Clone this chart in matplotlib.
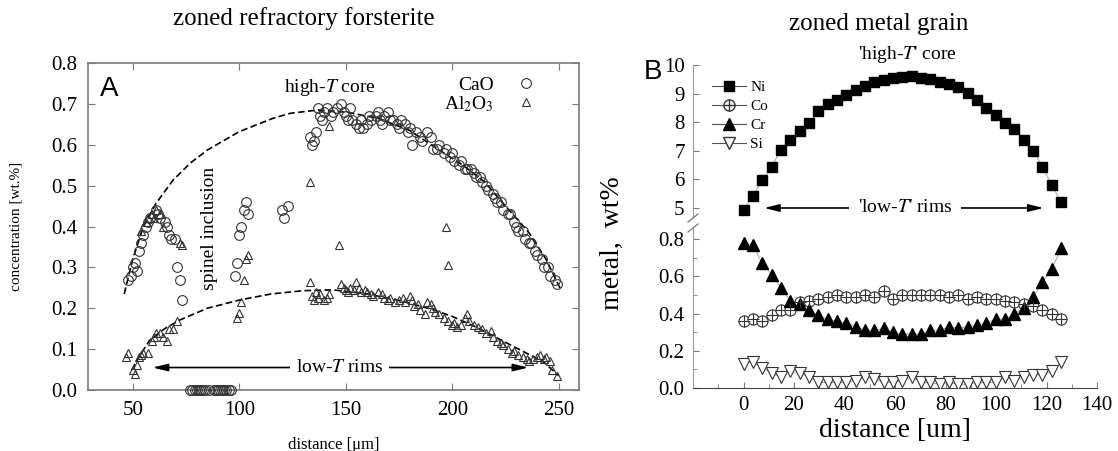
import matplotlib
matplotlib.use("Agg")
import matplotlib.pyplot as plt
from matplotlib.lines import Line2D

plt.rcParams["font.family"] = ["Liberation Serif", "DejaVu Serif"]
plt.rcParams["mathtext.fontset"] = "stix"

# ---- panel A: zoned refractory forsterite ----
cao_x = [48, 49, 50, 51, 52, 53, 54, 55, 56, 57, 58, 61, 62, 63, 65, 66, 67, 68, 70, 71, 72, 73,
         98, 99, 100, 101, 102, 103, 104, 120, 121, 123,
         133, 134, 135, 136, 137, 138, 139, 140, 141, 143, 144, 146, 148, 149, 150, 151, 152, 153,
         155, 156, 157, 158, 160, 161, 162, 164, 165, 166, 167, 168, 170, 171, 172, 174, 175, 176,
         178, 179, 180, 181, 183, 185, 186, 188, 190, 191, 193, 194, 196, 197, 199, 200, 201, 203,
         204, 206, 207, 209, 210, 211, 213, 214, 216, 217, 219, 220, 221, 223, 224, 226, 227, 229,
         230, 231, 233, 234, 236, 237, 239, 240, 242, 243, 245, 246, 248, 249]
cao_y = [0.27, 0.28, 0.30, 0.31, 0.29, 0.34, 0.36, 0.38, 0.40, 0.41, 0.42, 0.44, 0.43, 0.42, 0.41, 0.40, 0.38, 0.37, 0.37, 0.30, 0.27, 0.22,
         0.28, 0.31, 0.38, 0.40, 0.44, 0.46, 0.43, 0.44, 0.42, 0.45,
         0.62, 0.60, 0.61, 0.63, 0.69, 0.67, 0.66, 0.68, 0.69, 0.67, 0.68, 0.69, 0.70, 0.68, 0.67, 0.66, 0.69, 0.66,
         0.65, 0.64, 0.66, 0.64, 0.65, 0.67, 0.66, 0.67, 0.68, 0.66, 0.65, 0.67, 0.68, 0.66, 0.66, 0.65, 0.64, 0.66,
         0.65, 0.63, 0.64, 0.60, 0.63, 0.62, 0.61, 0.63, 0.62, 0.59, 0.59, 0.60, 0.58, 0.59, 0.57, 0.58, 0.56, 0.55,
         0.56, 0.54, 0.54, 0.54, 0.53, 0.52, 0.52, 0.51, 0.50, 0.49, 0.48, 0.47, 0.46, 0.46, 0.44, 0.43, 0.43, 0.41,
         0.40, 0.39, 0.39, 0.37, 0.36, 0.36, 0.34, 0.33, 0.32, 0.30, 0.30, 0.28, 0.27, 0.26]
# CaO analyses inside the spinel inclusion (sit on zero)
cao0_x = [77, 78, 79, 80, 81, 82, 83, 84, 86, 88, 89, 90, 91, 92, 93, 94, 95, 96]
cao0_y = [0.0] * len(cao0_x)

al_x = [47, 48, 50, 51, 52, 53, 54, 55, 57, 59, 60, 61, 63, 64, 66, 67, 69, 71,
        54, 56, 57, 59, 60, 61, 63, 64, 72, 73,
        99, 100, 101, 102, 103, 104, 133, 142, 147, 197, 198,
        133, 134, 135, 136, 137, 138, 140, 141, 142, 148, 149, 150, 151, 152, 154, 155, 156, 157,
        159, 160, 162, 163, 165, 167, 168, 170, 171, 173, 175, 177, 178, 180, 181, 182, 184, 185,
        187, 188, 190, 191, 192, 194, 196, 198, 200, 201, 202, 204, 206, 207, 208, 210, 212, 214,
        216, 218, 219, 221, 223, 224, 226, 228, 229, 231, 233, 235, 236, 238, 240, 241, 243, 244,
        246, 247, 249]
al_y = [0.08, 0.09, 0.05, 0.04, 0.06, 0.08, 0.085, 0.09, 0.09, 0.12, 0.13, 0.14, 0.14, 0.13, 0.12, 0.15, 0.15, 0.17,
        0.39, 0.41, 0.42, 0.43, 0.42, 0.44, 0.43, 0.40, 0.36, 0.355,
        0.176, 0.188, 0.215, 0.27, 0.32, 0.33, 0.51, 0.645, 0.355, 0.40, 0.305,
        0.265, 0.23, 0.22, 0.24, 0.225, 0.235, 0.22, 0.225, 0.235, 0.26, 0.25, 0.245, 0.24, 0.25, 0.245, 0.265, 0.25, 0.24,
        0.245, 0.24, 0.235, 0.23, 0.24, 0.235, 0.225, 0.22, 0.225, 0.215, 0.22, 0.225, 0.215, 0.23, 0.22, 0.205, 0.21, 0.195,
        0.185, 0.215, 0.21, 0.20, 0.19, 0.185, 0.175, 0.17, 0.16, 0.165, 0.155, 0.16, 0.175, 0.185, 0.17, 0.16, 0.155, 0.15,
        0.14, 0.145, 0.13, 0.12, 0.115, 0.11, 0.10, 0.09, 0.095, 0.085, 0.08, 0.075, 0.07, 0.075, 0.08, 0.085, 0.075, 0.08,
        0.07, 0.05, 0.035]

cao_fit_x = [46, 50, 55, 61, 69, 77, 85, 100, 116, 124, 137, 150, 165, 180, 193, 205, 215, 225, 236, 244, 251]
cao_fit_y = [0.235, 0.32, 0.40, 0.457, 0.514, 0.555, 0.587, 0.632, 0.665, 0.677, 0.685, 0.68, 0.665, 0.635,
             0.59, 0.55, 0.51, 0.45, 0.385, 0.32, 0.245]
al_fit_x = [49.5, 54, 58, 65, 72, 85, 100, 115, 130, 144, 160, 176, 190, 200, 212, 223, 233, 243, 250]
al_fit_y = [0.049, 0.09, 0.122, 0.15, 0.171, 0.20, 0.22, 0.235, 0.243, 0.245, 0.235, 0.218, 0.198, 0.18,
            0.152, 0.122, 0.095, 0.068, 0.035]

# ---- panel B: zoned metal grain ----
dist_b = [0.0, 3.7, 7.4, 11.1, 14.8, 18.5, 22.2, 25.9, 29.6, 33.3, 37.0, 40.7, 44.4, 48.1, 51.8, 55.5, 59.2,
          62.9, 66.6, 70.3, 74.0, 77.7, 81.4, 85.1, 88.8, 92.5, 96.2, 99.9, 103.6, 107.3, 111.0, 114.7,
          118.4, 122.1, 125.8]
ni = [4.93, 5.42, 5.98, 6.44, 7.03, 7.38, 7.70, 7.96, 8.40, 8.64, 8.78, 8.95, 9.13, 9.25, 9.40, 9.48, 9.53,
      9.58, 9.62, 9.55, 9.50, 9.42, 9.35, 9.22, 9.02, 8.78, 8.50, 8.25, 7.96, 7.75, 7.38, 7.00, 6.45, 5.80, 5.20]
co = [0.36, 0.37, 0.36, 0.39, 0.42, 0.42, 0.46, 0.47, 0.48, 0.49, 0.50, 0.49, 0.49, 0.50, 0.49, 0.52, 0.48,
      0.50, 0.50, 0.50, 0.50, 0.50, 0.49, 0.50, 0.48, 0.49, 0.48, 0.48, 0.47, 0.46, 0.45, 0.44, 0.42, 0.40, 0.37]
cr = [0.78, 0.77, 0.67, 0.61, 0.54, 0.47, 0.45, 0.42, 0.39, 0.37, 0.36, 0.35, 0.33, 0.31, 0.31, 0.32, 0.30,
      0.29, 0.29, 0.29, 0.31, 0.31, 0.33, 0.32, 0.33, 0.34, 0.35, 0.37, 0.37, 0.40, 0.43, 0.49, 0.57, 0.64, 0.75]
si = [0.13, 0.14, 0.11, 0.08, 0.06, 0.09, 0.08, 0.06, 0.03, 0.03, 0.03, 0.03, 0.04, 0.06, 0.05, 0.03, 0.03,
      0.04, 0.06, 0.03, 0.03, 0.02, 0.03, 0.02, 0.02, 0.03, 0.03, 0.03, 0.06, 0.04, 0.06, 0.07, 0.07, 0.09, 0.14]

W, H = 1118, 451
fig = plt.figure(figsize=(W / 100, H / 100), dpi=100)


def box(x0, y0, x1, y1):
    # pixel box (top-left origin) -> figure fraction rect
    return [x0 / W, 1 - y1 / H, (x1 - x0) / W, (y1 - y0) / H]


gray = "#7a7a7a"
ink = "#333333"
arrow = "-|>,head_length=0.9,head_width=0.22"

# ================= panel A =================
ax = fig.add_axes(box(88, 63, 579, 390))
ax.plot(cao_fit_x, cao_fit_y, color="black", ls=(0, (4, 2)), lw=1.2, zorder=2)
ax.plot(al_fit_x, al_fit_y, color="black", ls=(0, (4, 2)), lw=1.2, zorder=2)
ax.plot(cao_x, cao_y, "o", mfc="none", mec=ink, ms=7, mew=0.8, zorder=3, label="CaO")
ax.plot(cao0_x, cao0_y, "o", mfc="none", mec=ink, ms=7, mew=0.8, zorder=3, clip_on=False)
ax.plot(al_x, al_y, "^", mfc="none", mec=ink, ms=6, mew=0.8, zorder=3, label="Al$_2$O$_3$")
ax.set_xlim(29, 259.5)
ax.set_ylim(0, 0.8)
ax.set_xticks([50, 100, 150, 200, 250])
ax.set_yticks([0.0, 0.1, 0.2, 0.3, 0.4, 0.5, 0.6, 0.7, 0.8])
ax.set_yticklabels([f"{v:.1f}" for v in ax.get_yticks()])
ax.tick_params(direction="in", top=True, right=True, length=5, width=0.8, color=gray,
               labelsize=15, pad=8)
for s in ax.spines.values():
    s.set_color(gray)
    s.set_linewidth(1.2)
ax.set_xlabel("distance [μm]", fontsize=12, labelpad=12)
ax.set_ylabel("concentration [wt.%]", fontsize=11, labelpad=20)
ax.set_title("zoned refractory forsterite", fontsize=18, pad=27, x=0.44)
ax.text(0.025, 0.96, "A", transform=ax.transAxes, fontsize=20, family="Liberation Sans",
        va="top", ha="left")
ax.text(142.5, 0.739, "high-$T$ core", fontsize=14, ha="center", va="center")
ax.text(86, 0.395, "spinel inclusion", fontsize=14, rotation=90, ha="center", va="center")
ax.annotate("", xy=(58, 0.055), xytext=(147, 0.055),
            arrowprops=dict(arrowstyle=arrow, color="black", lw=1.2))
ax.annotate("", xy=(237, 0.055), xytext=(147, 0.055),
            arrowprops=dict(arrowstyle=arrow, color="black", lw=1.2))
ax.text(147, 0.055, "low-$T$ rims", fontsize=14, ha="center", va="center", zorder=5,
        bbox=dict(fc="white", ec="none", pad=4))
ax.legend(loc="upper right", bbox_to_anchor=(0.94, 1.0), frameon=False, markerfirst=False,
          fontsize=14, handlelength=1.0, handletextpad=1.15, labelspacing=0.0, borderpad=0.2)

# ================= panel B =================
axt = fig.add_axes(box(693, 65, 1097, 218))
axb = fig.add_axes(box(693, 228, 1097, 388))

line_kw = dict(color="#9a9a9a", lw=0.6, zorder=1)
axt.plot(dist_b, ni, **line_kw)
axt.plot(dist_b, ni, "s", color="black", ms=7, zorder=3)
for series in (co, cr, si):
    axb.plot(dist_b, series, **line_kw)
axb.plot(dist_b, co, "o", mfc="white", mec=ink, ms=8, mew=0.8, zorder=3)
axb.plot(dist_b, co, "+", color=ink, ms=8, mew=0.8, zorder=4)
axb.plot(dist_b, cr, "^", color="black", ms=8, zorder=3)
axb.plot(dist_b, si, "v", mfc="white", mec=ink, ms=8, mew=0.8, zorder=3)

for a in (axt, axb):
    a.set_xlim(-20, 140)
    a.spines["top"].set_visible(False)
    a.spines["right"].set_visible(False)
    a.spines["left"].set_color("#9a9a9a")
    a.tick_params(direction="in", length=4, width=0.8, color=gray, labelsize=15, pad=6)

axt.set_ylim(4.65, 10)
axt.set_yticks([5, 6, 7, 8, 9, 10])
axt.spines["bottom"].set_visible(False)
axt.tick_params(axis="x", bottom=False, labelbottom=False)

axb.set_ylim(0, 0.86)
axb.set_yticks([0.0, 0.2, 0.4, 0.6, 0.8])
axb.set_yticklabels([f"{v:.1f}" for v in axb.get_yticks()])
axb.set_yticks([0.1, 0.3, 0.5, 0.7], minor=True)
axb.set_xticks([0, 20, 40, 60, 80, 100, 120, 140])
axb.set_xticks([-20, -10, 10, 30, 50, 70, 90, 110, 130], minor=True)
axb.tick_params(which="minor", direction="in", length=3, color=gray)
axb.spines["bottom"].set_color("#444444")
axb.set_xlabel("distance [um]", fontsize=20, labelpad=2)
fig.text(612 / W, 1 - 243 / H, "metal,  wt%", fontsize=20, rotation=90, ha="center", va="center")

# axis break marks on the left spine
for yb in (218, 228):
    fig.add_artist(Line2D([688 / W, 698 / W], [1 - (yb + 4) / H, 1 - (yb - 4) / H],
                          color="#777777", lw=0.9))

axt.set_title("zoned metal grain", fontsize=18, pad=25, x=0.46)
fig.text(653 / W, 1 - 72 / H, "B", fontsize=20, family="Liberation Sans", ha="center", va="center")
axt.text(65, 10.38, "'high-$T$' core", fontsize=14, ha="center", va="center", clip_on=False)
axt.annotate("", xy=(7, 5.0), xytext=(64, 5.0),
             arrowprops=dict(arrowstyle=arrow, color="black", lw=1.2))
axt.annotate("", xy=(120, 5.0), xytext=(64, 5.0),
             arrowprops=dict(arrowstyle=arrow, color="black", lw=1.2))
axt.text(64, 5.0, "'low-$T$' rims", fontsize=14, ha="center", va="center", zorder=5,
         bbox=dict(fc="white", ec="none", pad=6))

handles = [
    Line2D([], [], color="#555555", lw=0.8, marker="s", ms=7, mfc="black", mec="black"),
    (Line2D([], [], color="#555555", lw=0.8, marker="o", ms=8, mfc="white", mec=ink),
     Line2D([], [], ls="none", marker="+", ms=8, color=ink)),
    Line2D([], [], color="#555555", lw=0.8, marker="^", ms=8, mfc="black", mec="black"),
    Line2D([], [], color="#555555", lw=0.8, marker="v", ms=8, mfc="white", mec=ink),
]
axt.legend(handles, ["Ni", "Co", "Cr", "Si"], loc="upper left", bbox_to_anchor=(0.025, 0.96),
           frameon=False, fontsize=11, handlelength=2.2, handletextpad=0.3, labelspacing=0.35,
           borderpad=0.1)

fig.savefig("out.png", dpi=100)
